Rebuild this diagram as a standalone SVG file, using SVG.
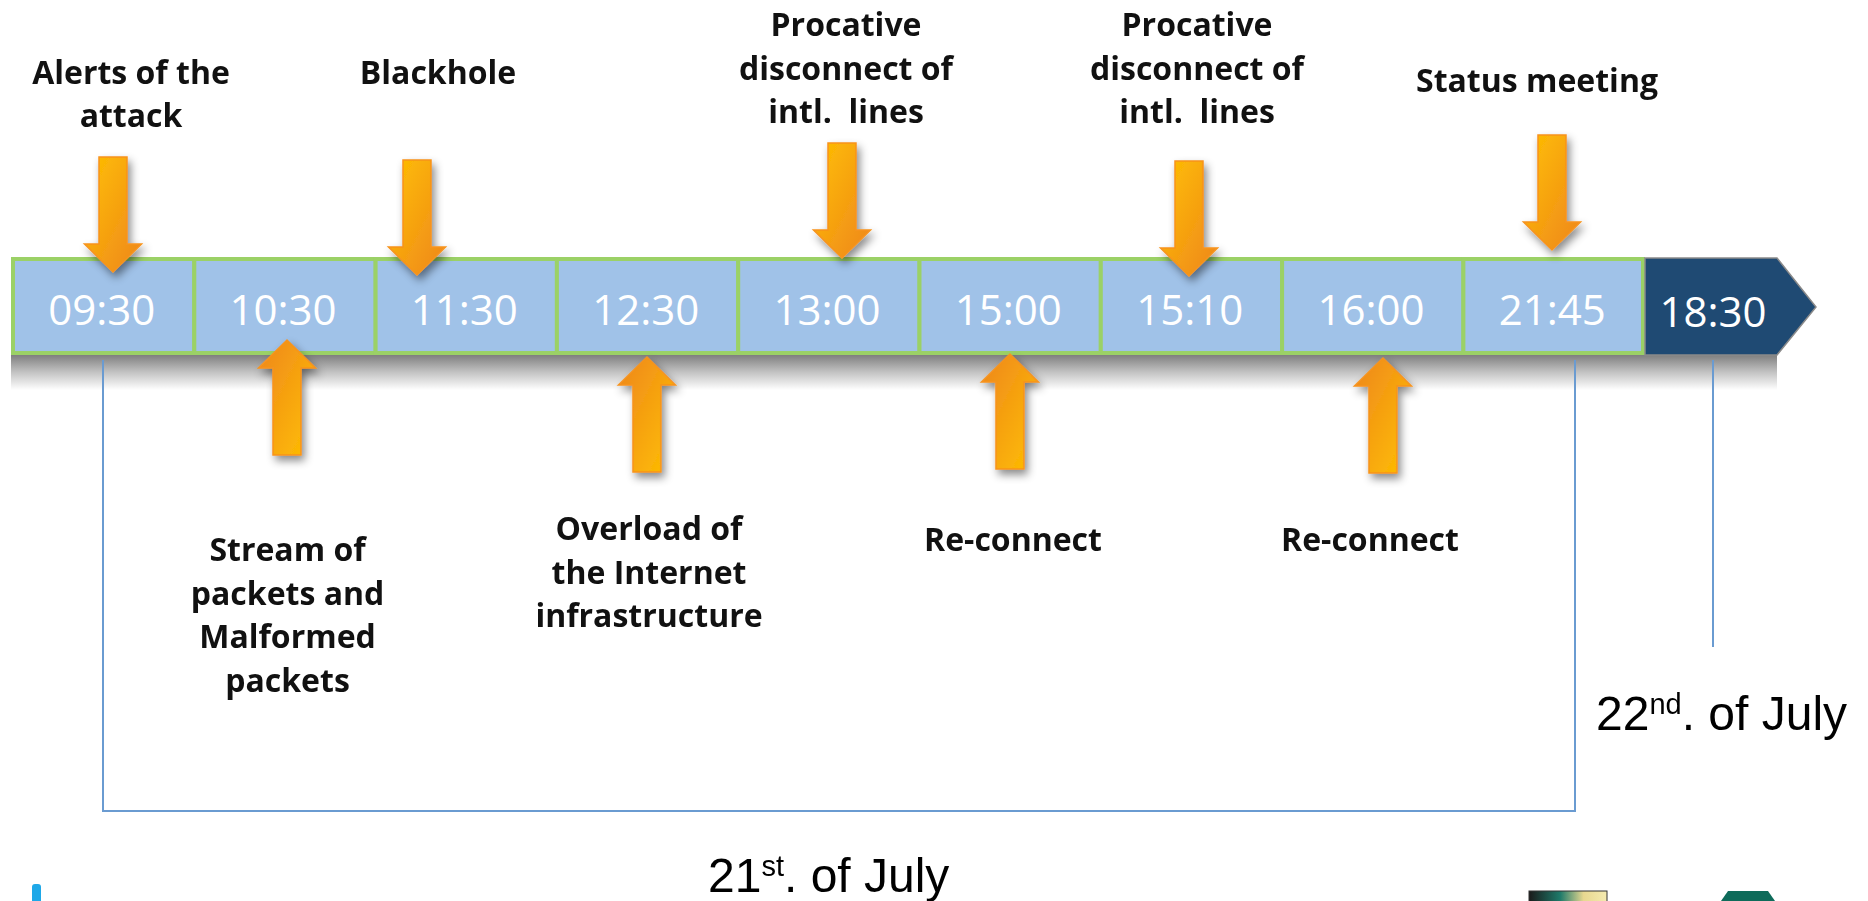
<svg xmlns="http://www.w3.org/2000/svg" width="1868" height="901" viewBox="0 0 1868 901">
<defs>
<style>
.cell{fill:#A0C2E8;stroke:#9BD166;stroke-width:4}
.time{font-family:"Open Sans","Noto Sans",sans-serif;font-size:42px;fill:#fff;text-anchor:middle}
.lbl{font-family:"Open Sans","Noto Sans",sans-serif;font-size:32px;font-weight:700;fill:#111;text-anchor:middle}
.date{font-family:"Liberation Sans",Arial,sans-serif;font-size:48px;fill:#000}
.sup{font-size:29px}
.conn{stroke:#6A9BD1;stroke-width:2;fill:none}
</style>
<linearGradient id="ag" x1="0" y1="0" x2="1" y2="1">
<stop offset="0" stop-color="#FFC000"/>
<stop offset="1" stop-color="#EE861E"/>
</linearGradient>
<linearGradient id="sh" x1="0" y1="0" x2="0" y2="1">
<stop offset="0" stop-color="#7F7F7F"/>
<stop offset="0.5" stop-color="#C4C4C4"/>
<stop offset="1" stop-color="#FFFFFF"/>
</linearGradient>
<linearGradient id="logo" x1="0" y1="0" x2="1" y2="0">
<stop offset="0" stop-color="#1A1A1A"/>
<stop offset="0.4" stop-color="#1E7A6A"/>
<stop offset="0.7" stop-color="#E8D890"/>
<stop offset="1" stop-color="#F4EAB0"/>
</linearGradient>
<filter id="ds" x="-50%" y="-30%" width="200%" height="160%">
<feDropShadow dx="3" dy="5" stdDeviation="4" flood-color="#000" flood-opacity="0.45"/>
</filter>
<path id="arr" d="M-14,0 H14 V87 H28.5 L0,115 L-28.5,87 H-14 Z" fill="url(#ag)" stroke="#F7931E" stroke-width="1.5"/>
</defs>

<rect x="11" y="355" width="1766" height="35" fill="url(#sh)"/>

<g id="bar">
<g id="t0930"><rect class="cell" x="13" y="259" width="181.3" height="94"/><text class="time" x="101.7" y="325">09:30</text></g>
<g id="t1030"><rect class="cell" x="194.3" y="259" width="181.3" height="94"/><text class="time" x="283" y="325">10:30</text></g>
<g id="t1130"><rect class="cell" x="375.6" y="259" width="181.3" height="94"/><text class="time" x="464.3" y="325">11:30</text></g>
<g id="t1230"><rect class="cell" x="556.9" y="259" width="181.3" height="94"/><text class="time" x="645.7" y="325">12:30</text></g>
<g id="t1300"><rect class="cell" x="738.2" y="259" width="181.3" height="94"/><text class="time" x="827" y="325">13:00</text></g>
<g id="t1500"><rect class="cell" x="919.5" y="259" width="181.3" height="94"/><text class="time" x="1008.3" y="325">15:00</text></g>
<g id="t1510"><rect class="cell" x="1100.8" y="259" width="181.3" height="94"/><text class="time" x="1189.7" y="325">15:10</text></g>
<g id="t1600"><rect class="cell" x="1282.1" y="259" width="181.3" height="94"/><text class="time" x="1371" y="325">16:00</text></g>
<g id="t2145"><rect class="cell" x="1463.4" y="259" width="179.6" height="94"/><text class="time" x="1552.3" y="325">21:45</text></g>
<g id="t1830"><path d="M1645,258 H1777 L1816,307 L1777,355 H1645 Z" fill="#1F4A73" stroke="#8A8A8A" stroke-width="1.5"/><text class="time" x="1713" y="327">18:30</text></g>
</g>

<g id="arrows" filter="url(#ds)">
<use href="#arr" transform="translate(113,157)"/>
<use href="#arr" transform="translate(417,160)"/>
<use href="#arr" transform="translate(842,143)"/>
<use href="#arr" transform="translate(1189,161)"/>
<use href="#arr" transform="translate(1552,135)"/>
<use href="#arr" transform="translate(287,455) rotate(180)"/>
<use href="#arr" transform="translate(647,472) rotate(180)"/>
<use href="#arr" transform="translate(1010,469) rotate(180)"/>
<use href="#arr" transform="translate(1383,473) rotate(180)"/>
</g>

<g id="connectors">
<path class="conn" d="M103,360 V811 H1575 V360"/>
<path class="conn" d="M1713,360 V647"/>
</g>

<g id="label-alerts"><text class="lbl" x="131" y="84">Alerts of the</text><text class="lbl" x="131" y="127">attack</text></g>
<g id="label-blackhole"><text class="lbl" x="438" y="84">Blackhole</text></g>
<g id="label-procative1"><text class="lbl" x="846" y="36">Procative</text><text class="lbl" x="846" y="79.5">disconnect of</text><text class="lbl" x="846" y="123" xml:space="preserve">intl.  lines</text></g>
<g id="label-procative2"><text class="lbl" x="1197" y="36">Procative</text><text class="lbl" x="1197" y="79.5">disconnect of</text><text class="lbl" x="1197" y="123" xml:space="preserve">intl.  lines</text></g>
<g id="label-status"><text class="lbl" x="1537" y="92">Status meeting</text></g>
<g id="label-stream"><text class="lbl" x="287.5" y="561">Stream of</text><text class="lbl" x="287.5" y="604.5">packets and</text><text class="lbl" x="287.5" y="648">Malformed</text><text class="lbl" x="287.5" y="691.5">packets</text></g>
<g id="label-overload"><text class="lbl" x="649" y="540">Overload of</text><text class="lbl" x="649" y="583.5">the Internet</text><text class="lbl" x="649" y="627">infrastructure</text></g>
<g id="label-reconnect1"><text class="lbl" x="1013" y="551">Re-connect</text></g>
<g id="label-reconnect2"><text class="lbl" x="1370" y="551">Re-connect</text></g>

<g id="date21"><text class="date" x="708" y="892">21<tspan class="sup" dy="-16">st</tspan><tspan dy="16">. of July</tspan></text></g>
<g id="date22"><text class="date" x="1596" y="730">22<tspan class="sup" dy="-16">nd</tspan><tspan dy="16">. of July</tspan></text></g>

<g id="logos">
<rect x="32" y="884" width="9" height="20" rx="3" fill="#1EA8E8"/>
<rect x="1529" y="891" width="78" height="14" fill="url(#logo)" stroke="#333" stroke-width="1"/>
<path d="M1728,891 H1768 L1775,901 H1721 Z" fill="#0E6B5A"/>
</g>
</svg>
